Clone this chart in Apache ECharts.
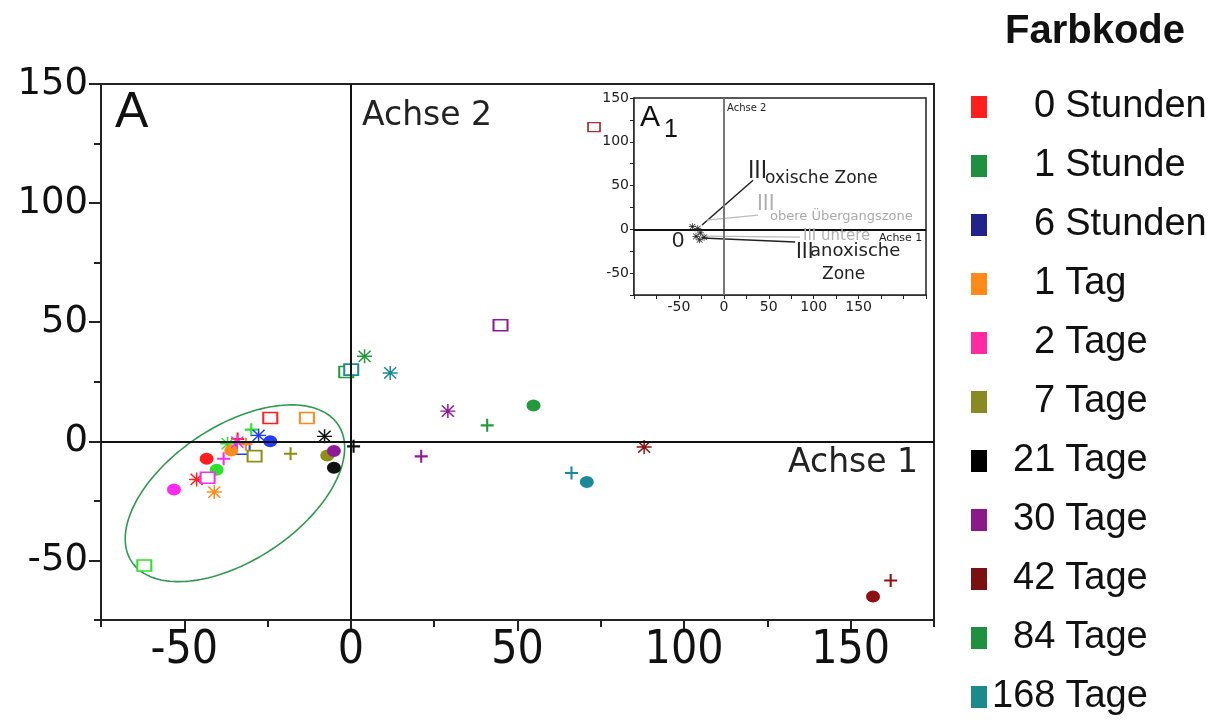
<!DOCTYPE html>
<html><head><meta charset="utf-8">
<script src="https://cdn.jsdelivr.net/npm/echarts@6/dist/echarts.min.js"></script>
<style>html,body{margin:0;padding:0;background:#fff}#c{width:1222px;height:722px}</style>
</head><body><div id="c"></div>
<script>
// ---- categories (time points) ----
const seriesNames = ['0 Stunden','1 Stunde','6 Stunden','1 Tag','2 Tage','7 Tage','21 Tage','30 Tage','42 Tage','84 Tage','168 Tage'];
// ---- values: [Achse 1, Achse 2, marker]  sq=open square, ci=circle, pl=plus, as=asterisk ----
const d0h   = [[-24.2, 9.8, 'sq'], [-43.3, -7.3, 'ci'], [-46.3, -16.0, 'as'], [-34.0, 1.0, 'pl']];
const d1h   = [[-62.0, -52.1, 'sq'], [-40.3, -11.9, 'ci'], [-29.9, 4.9, 'pl'], [-37.0, -1.0, 'as']];
const d6h   = [[-32.5, -3.1, 'sq'], [-24.2, 0.0, 'ci'], [-27.7, 2.5, 'as']];
const d1d   = [[-13.2, 9.8, 'sq'], [-35.9, -3.8, 'ci'], [-41.0, -21.3, 'as'], [-31.5, -1.2, 'pl']];
const d2d   = [[-43.0, -15.3, 'sq'], [-53.1, -20.2, 'ci'], [-38.2, -7.3, 'pl'], [-34.1, -0.3, 'as']];
const d7d   = [[-28.9, -6.2, 'sq'], [-7.1, -5.9, 'ci'], [-18.1, -5.2, 'pl']];
const d21d  = [[-5.1, -11.1, 'ci'], [-7.9, 2.1, 'as'], [0.8, -2.1, 'pl']];
const d30d  = [[44.9, 48.7, 'sq'], [-5.1, -4.1, 'ci'], [21.1, -6.3, 'pl'], [29.1, 12.7, 'as']];
const d42d  = [[156.7, -65.1, 'ci'], [162.0, -58.4, 'pl'], [88.0, -2.4, 'as']];
const d84d  = [[-1.4, 29.1, 'sq'], [54.8, 15.0, 'ci'], [40.9, 6.7, 'pl'], [4.1, 35.7, 'as']];
const d168d = [[0.1, 30.1, 'sq'], [70.8, -17.1, 'ci'], [66.2, -13.3, 'pl'], [11.8, 28.7, 'as']];
const allData = [d0h, d1h, d6h, d1d, d2d, d7d, d21d, d30d, d42d, d84d, d168d];
// ellipse: centre, end of major semi-axis, end of minor semi-axis (data units)
const ellipseDef = [[-34.8, -21.8, -3.8, 6.9, -23.7, -45.3]];
// ---- inset A1 ----
const insetCluster = [[-35, 3], [-29, 1], [-26, -4], [-22, -9], [-31, -8], [-27, -12]];
const insetOutlier42 = [[-144.5, 116.8]];
const leadOxic   = [[-24.3, 4.9], [32.5, 56.0]];
const leadUpper  = [[-19.3, 10.6], [38.1, 16.3]];
const leadLower  = [[-19.8, -7.7], [84.9, -8.8]];
const leadAnoxic = [[-24.3, -10.0], [79.3, -14.5]];
// ---- ticks ----
const xTickLabels = [-50, 0, 50, 100, 150];
const xMinorTicks = [-75, -25, 25, 75, 125, 175];
const yTickLabels = [-50, 0, 50, 100, 150];
const yMinorTicks = [-75, -25, 25, 75, 125];
const insetTickLabels = [-50, 0, 50, 100, 150];

// ---- styles ----
const pointColors  = ['#ff1f1f','#2ee02e','#1f3cff','#ff8c1a','#ff2af0','#8f8f14','#111111','#8f1a99','#8e1010','#239a3a','#1a8a99'];
const legendColors = ['#ff1f1f','#1f9040','#22228c','#ff8a1a','#ff2aa0','#8a8a22','#000000','#8a1a8a','#7a1010','#1f9040','#1a8a8a'];
const SYM = {
  sq: 'rect',
  ci: 'circle',
  pl: 'path://M4.2,0H5.8V4.2H10V5.8H5.8V10H4.2V5.8H0V4.2H4.2Z',
  as: 'path://M9,0H11V20H9ZM0,9H20V11H0ZM2.7,1.3L18.7,17.3L17.3,18.7L1.3,2.7ZM17.3,1.3L18.7,2.7L2.7,18.7L1.3,17.3Z'
};
const SIZE = {sq: [14, 11], ci: [14, 12], pl: [13, 13], as: [15, 14]};
function item(p, color) {
  const k = p[2];
  const st = k === 'sq' ? {color: '#fff', borderColor: color, borderWidth: 1.8, opacity: 1}
                        : {color: color, borderWidth: 0, opacity: 1};
  return {value: [p[0], p[1]], symbol: SYM[k], symbolSize: SIZE[k], itemStyle: st};
}
const F_PLOT = 'DejaVu Sans, Liberation Sans, sans-serif';
const F_NARROW = '"Liberation Sans Narrow", "DejaVu Sans Condensed", "Arial Narrow", sans-serif';
const F_LEG = 'Liberation Sans, Arial, sans-serif';

const series = allData.map((arr, i) => ({
  name: seriesNames[i], type: 'scatter', xAxisIndex: 0, yAxisIndex: 0,
  itemStyle: {color: pointColors[i], opacity: 1},
  data: arr.map(p => item(p, pointColors[i])), z: 3
}));
series[0].markLine = {
  symbol: 'none', silent: true, label: {show: false}, animation: false,
  lineStyle: {color: '#111', width: 2, type: 'solid'},
  data: [{xAxis: 0}, {yAxis: 0}]
};
series.unshift({
  type: 'custom', xAxisIndex: 0, yAxisIndex: 0, data: ellipseDef, silent: true, z: 2,
  renderItem(params, api) {
    const c = api.coord([api.value(0), api.value(1)]);
    const a = api.coord([api.value(2), api.value(3)]);
    const b = api.coord([api.value(4), api.value(5)]);
    const pts = [];
    for (let i = 0; i < 180; i++) {
      const t = i / 180 * 2 * Math.PI;
      pts.push([c[0] + (a[0] - c[0]) * Math.cos(t) + (b[0] - c[0]) * Math.sin(t),
                c[1] + (a[1] - c[1]) * Math.cos(t) + (b[1] - c[1]) * Math.sin(t)]);
    }
    return {type: 'polygon', shape: {points: pts}, style: {fill: 'none', stroke: '#2f9a4c', lineWidth: 1.6}};
  }
});
// inset series
series.push({
  type: 'scatter', xAxisIndex: 2, yAxisIndex: 2, data: insetCluster, symbol: SYM.as, symbolSize: 7,
  itemStyle: {color: '#222', opacity: 1}, silent: true, z: 5,
  markLine: {
    symbol: 'none', silent: true, label: {show: false}, animation: false,
    data: [{xAxis: 0, lineStyle: {color: '#777', width: 2, type: 'solid'}},
           {yAxis: 0, lineStyle: {color: '#111', width: 2, type: 'solid'}}]
  }
});
series.push({
  type: 'scatter', xAxisIndex: 2, yAxisIndex: 2, data: insetOutlier42, symbol: 'rect', symbolSize: [12, 9],
  itemStyle: {color: '#fff', borderColor: '#b03030', borderWidth: 1.5, opacity: 1}, clip: false, silent: true, z: 5
});
[[leadOxic, '#222', 1.5], [leadUpper, '#bbb', 1.2], [leadLower, '#bbb', 1.2], [leadAnoxic, '#222', 1.5]].forEach(l => {
  series.push({type: 'line', xAxisIndex: 2, yAxisIndex: 2, data: l[0], symbol: 'none', silent: true, z: 4,
    lineStyle: {color: l[1], width: l[2]}});
});

const axisLineStyle = {color: '#222', width: 2};
const option = {
  animation: false,
  backgroundColor: '#fff',
  grid: [
    {left: 101, top: 84, width: 833, height: 536, show: true, borderColor: '#222', borderWidth: 2, backgroundColor: 'transparent'},
    {left: 634, top: 98, width: 292, height: 197, show: true, borderColor: '#222', borderWidth: 1.5, backgroundColor: '#fff', z: 1}
  ],
  xAxis: [
    {type: 'value', gridIndex: 0, min: -75, max: 175, position: 'bottom',
     axisLine: {show: true, onZero: false, lineStyle: axisLineStyle},
     axisTick: {show: true, customValues: xTickLabels, length: 11, lineStyle: {color: '#222', width: 2}},
     axisLabel: {customValues: xTickLabels, fontSize: 46, fontFamily: F_NARROW, color: '#111', margin: 8},
     splitLine: {show: false}},
    {type: 'value', gridIndex: 0, min: -75, max: 175, position: 'bottom',
     axisLine: {show: false, onZero: false}, axisTick: {show: true, customValues: xMinorTicks, length: 7, lineStyle: {color: '#222', width: 2}},
     axisLabel: {show: false}, splitLine: {show: false}},
    {type: 'value', gridIndex: 1, min: -100, max: 225, interval: 25, position: 'bottom',
     axisLine: {show: true, onZero: false, lineStyle: {color: '#222', width: 1.5}},
     axisTick: {show: true, length: 4, lineStyle: {color: '#222'}},
     axisLabel: {customValues: insetTickLabels, fontSize: 14, fontFamily: F_PLOT, color: '#222', margin: 5},
     splitLine: {show: false}}
  ],
  yAxis: [
    {type: 'value', gridIndex: 0, min: -75, max: 150, position: 'left',
     axisLine: {show: true, onZero: false, lineStyle: axisLineStyle},
     axisTick: {show: true, customValues: yTickLabels, length: 12, lineStyle: {color: '#222', width: 2}},
     axisLabel: {customValues: yTickLabels, fontSize: 37, fontFamily: F_PLOT, color: '#111', margin: 13},
     splitLine: {show: false}},
    {type: 'value', gridIndex: 0, min: -75, max: 150, position: 'left',
     axisLine: {show: false, onZero: false}, axisTick: {show: true, customValues: yMinorTicks, length: 7, lineStyle: {color: '#222', width: 2}},
     axisLabel: {show: false}, splitLine: {show: false}},
    {type: 'value', gridIndex: 1, min: -75, max: 150, interval: 25, position: 'left',
     axisLine: {show: true, onZero: false, lineStyle: {color: '#222', width: 1.5}},
     axisTick: {show: true, length: 4, lineStyle: {color: '#222'}},
     axisLabel: {customValues: insetTickLabels, fontSize: 14, fontFamily: F_PLOT, color: '#222', margin: 5},
     splitLine: {show: false}}
  ],
  legend: {
    orient: 'vertical', left: 971, top: 88, padding: 0, itemWidth: 16, itemHeight: 22, itemGap: 21, icon: 'rect',
    selectedMode: false,
    data: seriesNames.map((n, i) => ({name: n, itemStyle: {color: legendColors[i], borderWidth: 0, opacity: 1}})),
    formatter: name => {
      const k = name.indexOf(' ');
      const num = name.slice(0, k);
      return '{d' + num.length + '|' + num + '}{w|' + name.slice(k + 1) + '}';
    },
    textStyle: {
      rich: {
        d1: {fontSize: 38, fontFamily: F_LEG, lineHeight: 40, color: '#111', padding: [0, 0, 0, 42]},
        d2: {fontSize: 38, fontFamily: F_LEG, lineHeight: 40, color: '#111', padding: [0, 0, 0, 21]},
        d3: {fontSize: 38, fontFamily: F_LEG, lineHeight: 40, color: '#111'},
        w: {fontSize: 38, fontFamily: F_LEG, lineHeight: 40, color: '#111', padding: [0, 0, 0, 10]}
      }
    }
  },
  graphic: [
    {type: 'text', left: 1005, top: 12, style: {text: 'Farbkode', fontSize: 40, fontWeight: 'bold', fontFamily: F_LEG, fill: '#111'}},
    {type: 'text', left: 115, top: 88, style: {text: 'A', fontSize: 50, fontFamily: F_LEG, fill: '#111'}},
    {type: 'text', left: 362, top: 100, style: {text: 'Achse 2', fontSize: 33, fontFamily: F_PLOT, fill: '#222'}},
    {type: 'text', left: 788, top: 447, style: {text: 'Achse 1', fontSize: 33, fontFamily: F_PLOT, fill: '#222'}},
    // inset texts
    {type: 'text', left: 640, top: 103, z: 10, style: {text: 'A', fontSize: 30, fontFamily: F_LEG, fill: '#111'}},
    {type: 'text', left: 664, top: 118, z: 10, style: {text: '1', fontSize: 25, fontFamily: F_LEG, fill: '#111'}},
    {type: 'text', left: 727, top: 103, z: 10, style: {text: 'Achse 2', fontSize: 10, fontFamily: F_PLOT, fill: '#222'}},
    {type: 'text', left: 748, top: 160, z: 10, style: {text: 'III', fontSize: 24, fontFamily: F_NARROW, fill: '#222'}},
    {type: 'text', left: 765, top: 170, z: 10, style: {text: 'oxische Zone', fontSize: 17, fontFamily: F_PLOT, fill: '#222'}},
    {type: 'text', left: 757, top: 193, z: 10, style: {text: 'III', fontSize: 22, fontFamily: F_NARROW, fill: '#b0b0b0'}},
    {type: 'text', left: 770, top: 210, z: 10, style: {text: 'obere Übergangszone', fontSize: 13, fontFamily: F_PLOT, fill: '#aaaaaa'}},
    {type: 'text', left: 803, top: 229, z: 10, style: {text: 'III untere', fontSize: 15, fontFamily: F_PLOT, fill: '#b0b0b0'}},
    {type: 'text', left: 879, top: 233, z: 10, style: {text: 'Achse 1', fontSize: 11, fontFamily: F_PLOT, fill: '#222'}},
    {type: 'text', left: 796, top: 241, z: 10, style: {text: 'III', fontSize: 22, fontFamily: F_NARROW, fill: '#222'}},
    {type: 'text', left: 810, top: 242, z: 10, style: {text: 'anoxische', fontSize: 18, fontFamily: F_PLOT, fill: '#222'}},
    {type: 'text', left: 822, top: 266, z: 10, style: {text: 'Zone', fontSize: 17, fontFamily: F_PLOT, fill: '#222'}},
    {type: 'text', left: 672, top: 230, z: 10, style: {text: '0', fontSize: 22, fontFamily: F_LEG, fill: '#222'}}
  ],
  series: series
};
const chart = echarts.init(document.getElementById('c'), null, {renderer: 'canvas'});
chart.setOption(option);
</script>
</body></html>
